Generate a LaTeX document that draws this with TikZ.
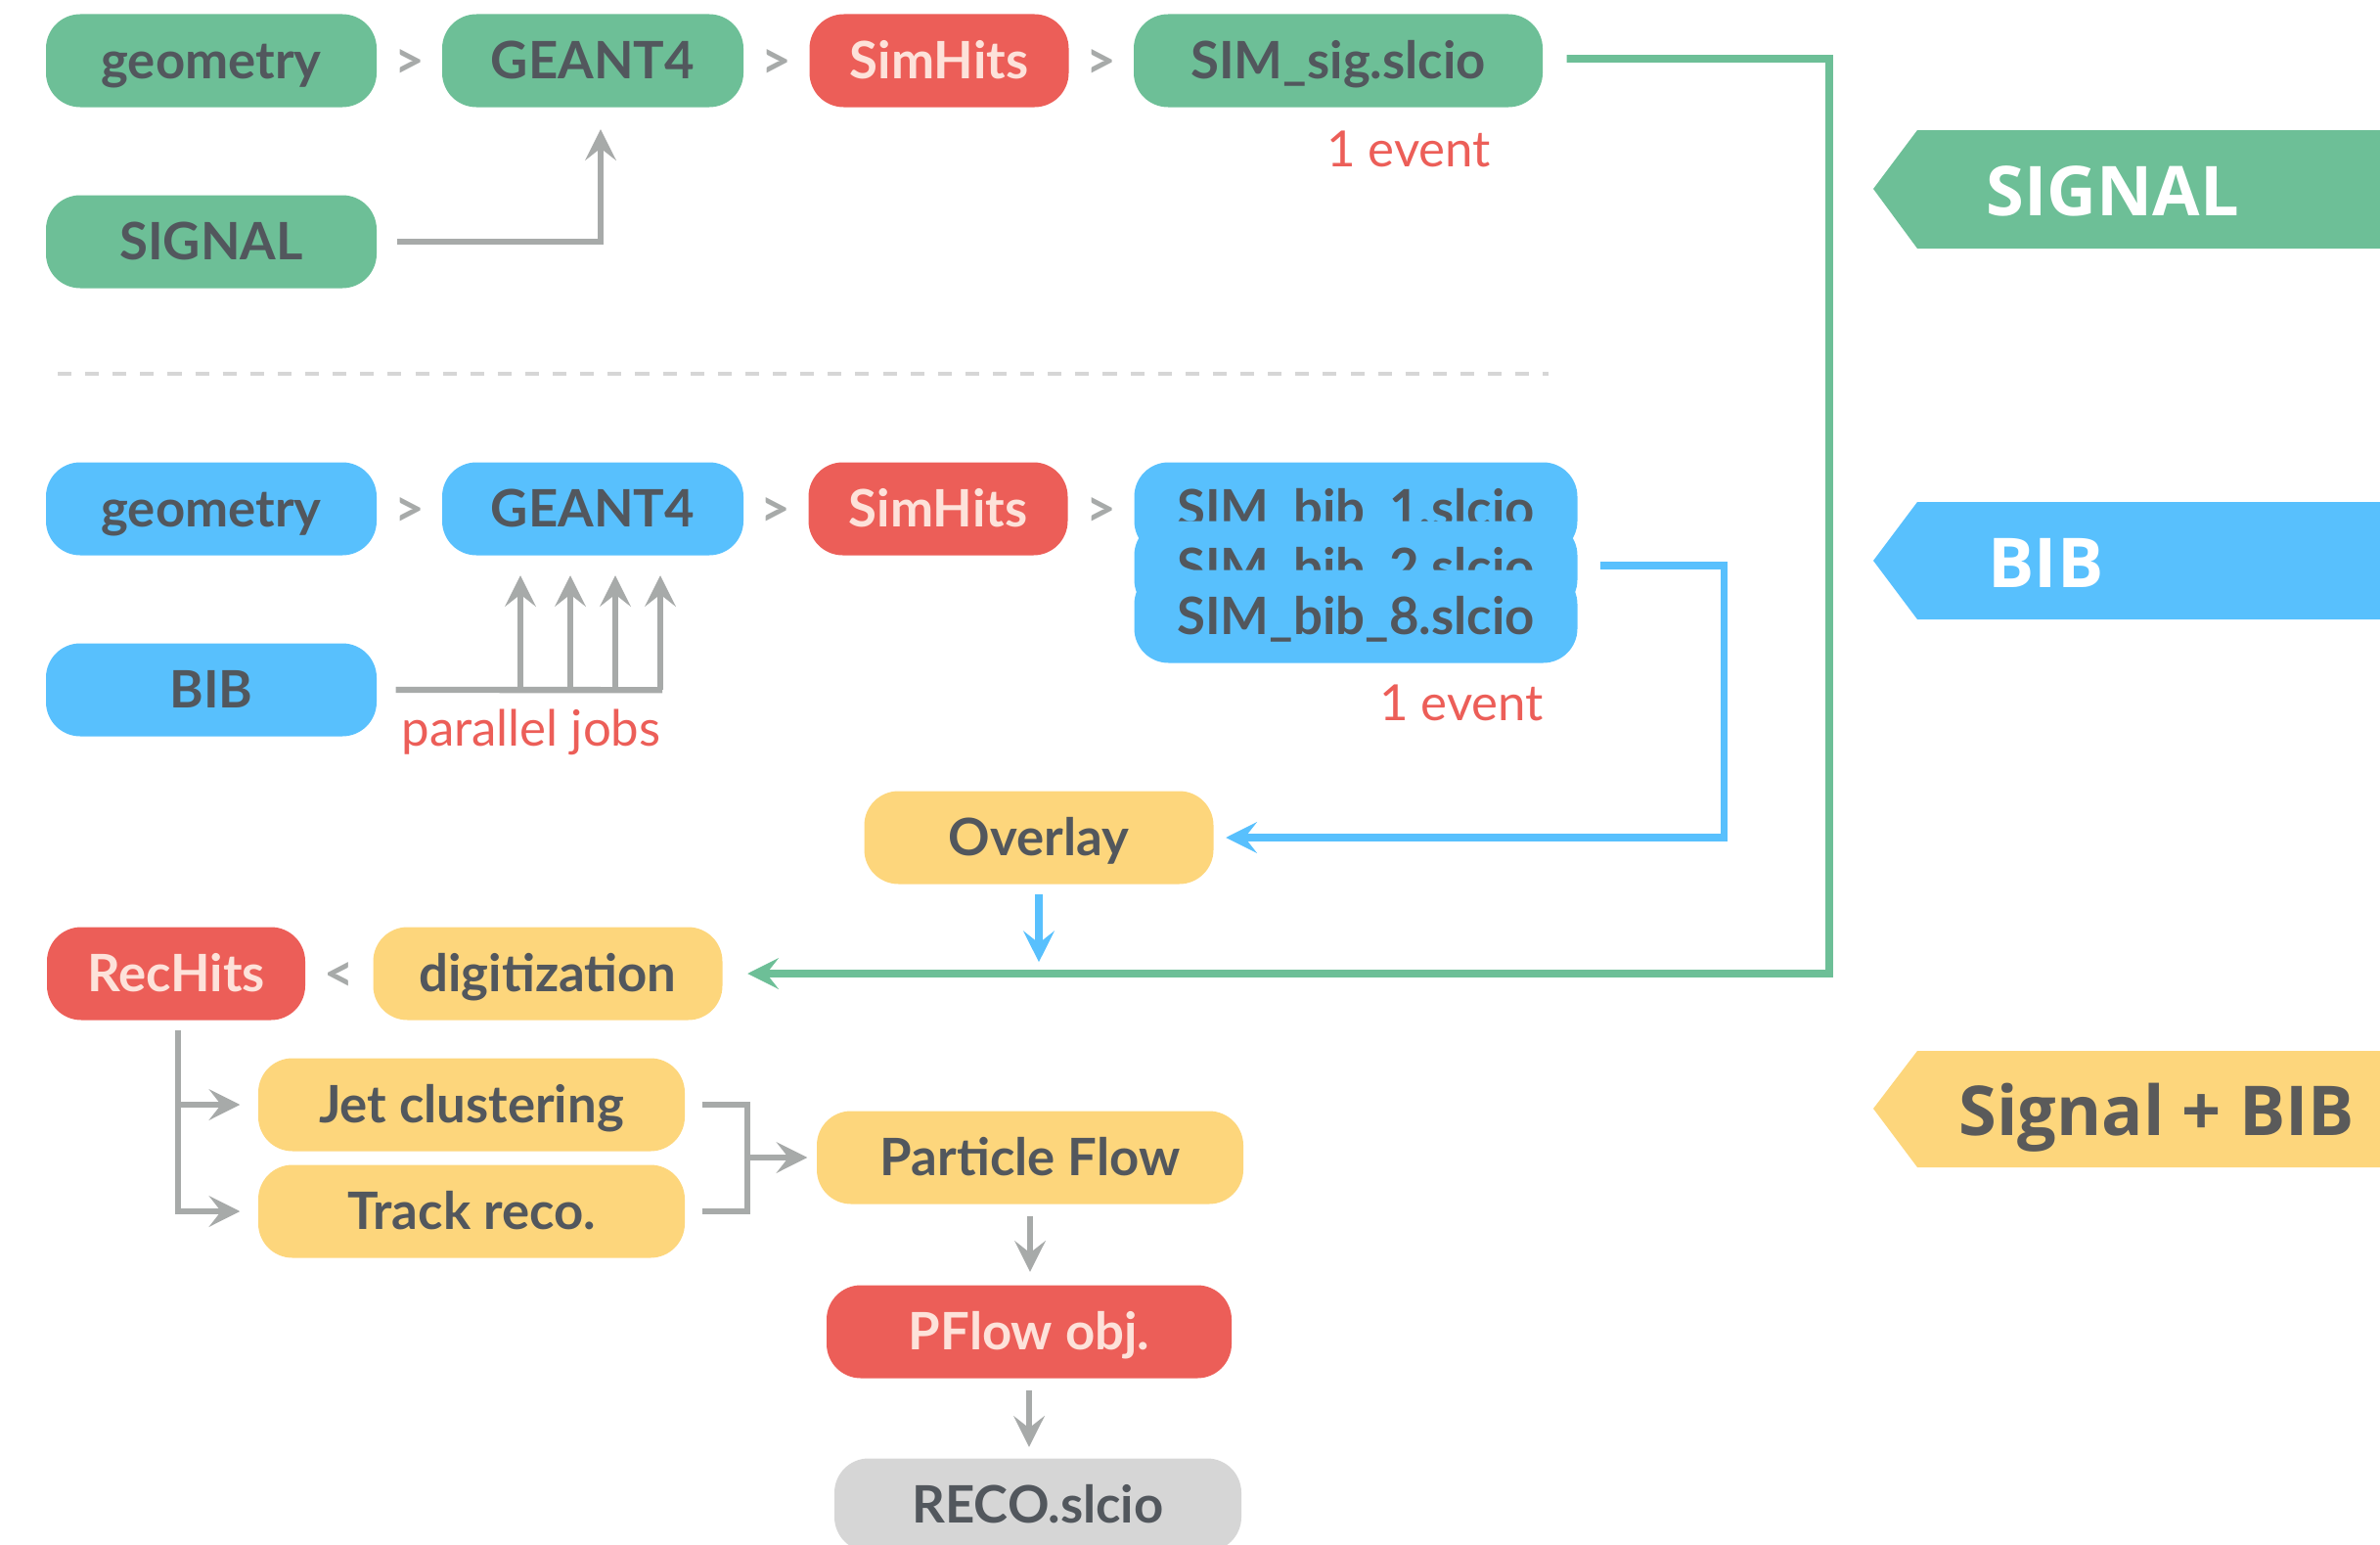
\documentclass[tikz,border=0pt]{standalone}
\usepackage{fontspec}
\setmainfont{Lato}
\newfontfamily\bannerfont{Open Sans}
\usetikzlibrary{arrows.meta, calc}
\definecolor{siggreen}{HTML}{6DBF97}
\definecolor{bibblue}{HTML}{58C0FD}
\definecolor{hitred}{HTML}{EC5E58}
\definecolor{mixyellow}{HTML}{FDD67C}
\definecolor{recogray}{HTML}{D6D6D6}
\definecolor{txtgray}{HTML}{52575D}
\definecolor{hittext}{HTML}{FDE2DA}
\definecolor{linegray}{HTML}{A7AAA9}
\definecolor{tagtext}{HTML}{5A5A5A}
\newcommand{\stagefont}{\fontsize{15}{18}\selectfont\bfseries}
\newcommand{\notefont}{\fontsize{14.5}{17}\selectfont}
\newcommand{\tagfont}{\bannerfont\fontsize{20}{24}\selectfont\bfseries}

\begin{document}
\begin{tikzpicture}[
        stage/.style={rounded corners=0.35cm, minimum height=0.95cm, inner sep=0pt,
            text height=10.8pt, text depth=0pt, font=\stagefont, text=txtgray},
        sigstage/.style={stage, fill=siggreen},
        bibstage/.style={stage, fill=bibblue},
        hitstage/.style={stage, fill=hitred, text=hittext},
        mixstage/.style={stage, fill=mixyellow},
        outstage/.style={stage, fill=recogray},
        sep/.style={font=\stagefont, text=linegray, text height=10.8pt, text depth=0pt, inner sep=0pt},
        note/.style={font=\notefont, text=hitred},
        tag/.style={font=\tagfont, text height=14.3pt, text depth=0pt, inner sep=0pt},
        feed/.style={draw=linegray, line width=1.8pt},
        feedarrow/.style={feed, -{Stealth[length=9pt, width=9pt, inset=3.5pt]}},
        sigline/.style={draw=siggreen, line width=2.2pt, -{Stealth[length=9pt, width=9pt, inset=3.5pt]}},
        bibline/.style={draw=bibblue, line width=2pt, -{Stealth[length=9pt, width=9pt, inset=3.5pt]}}
    ]
        \useasboundingbox (0,0) rectangle (24.33,-15.79);

        % Signal chain
        \node[sigstage, minimum width=3.38cm] (siggeo) at (2.16,-0.62) {geometry};
        \node[sigstage, minimum width=3.08cm] (siggeant) at (6.06,-0.62) {GEANT4};
        \node[hitstage, minimum width=2.65cm] (sighits) at (9.60,-0.62) {SimHits};
        \node[sigstage, minimum width=4.18cm] (simsig) at (13.68,-0.62) {SIM\_sig.slcio};
        \node[sep] at ($(siggeo.east)!0.5!(siggeant.west)$) {>};
        \node[sep] at ($(siggeant.east)!0.5!(sighits.west)$) {>};
        \node[sep] at ($(sighits.east)!0.5!(simsig.west)$) {>};
        \node[note] (sigevent) at (14.40,-1.52) {1 event};
        \node[sigstage, minimum width=3.38cm] (sigsrc) at (2.16,-2.47) {SIGNAL};
        \draw[feedarrow] ([xshift=0.20cm]sigsrc.east) -| ([xshift=0.08cm, yshift=-0.22cm]siggeant.south);

        % Divider
        \draw[draw=recogray, line width=1.2pt, dash pattern=on 4pt off 4pt] (0.59,-3.82) -- (15.83,-3.82);

        % BIB chain
        \node[bibstage, minimum width=3.38cm] (bibgeo) at (2.16,-5.20) {geometry};
        \node[bibstage, minimum width=3.08cm] (bibgeant) at (6.06,-5.20) {GEANT4};
        \node[hitstage, minimum width=2.65cm] (bibhits) at (9.59,-5.20) {SimHits};
        \node[bibstage, minimum width=4.53cm] (sim1) at (13.86,-5.20) {SIM\_bib\_1.slcio};
        \node[bibstage, minimum width=4.53cm] (sim2) at (13.86,-5.80) {SIM\_bib\_2.slcio};
        \node[bibstage, minimum width=4.53cm] (sim8) at (13.86,-6.30) {SIM\_bib\_8.slcio};
        \node[sep] at ($(bibgeo.east)!0.5!(bibgeant.west)$) {>};
        \node[sep] at ($(bibgeant.east)!0.5!(bibhits.west)$) {>};
        \node[sep] at ($(bibhits.east)!0.5!(sim1.west)$) {>};
        \node[note] (bibevent) at (14.94,-7.18) {1 event};
        \node[bibstage, minimum width=3.38cm] (bibsrc) at (2.16,-7.05) {BIB};
        \node[note] (jobs) at (5.43,-7.48) {parallel jobs};
        \draw[feed] ([xshift=0.19cm]bibsrc.east) -- ($(bibgeant.south)+(0.71,-1.37)$);
        \foreach \dx in {-0.74,-0.23,0.23,0.69} {
            \draw[feedarrow] ($(bibgeant.south)+(\dx,-1.37)$) -- ($(bibgeant.south)+(\dx,-0.20)$);
        }

        % Merging
        \node[mixstage, minimum width=3.57cm] (overlay) at (10.62,-8.56) {Overlay};
        \node[hitstage, minimum width=2.64cm] (rechits) at (1.80,-9.95) {RecHits};
        \node[mixstage, minimum width=3.57cm] (digi) at (5.60,-9.95) {digitization};
        \node[sep] at ($(rechits.east)!0.5!(digi.west)$) {<};
        \coordinate (sigbend) at (18.70,-0.60);
        \coordinate (bibbend) at (17.62,-5.78);
        \draw[sigline] ([xshift=0.24cm, yshift=0.02cm]simsig.east) -- (sigbend) |- ([xshift=0.25cm]digi.east);
        \draw[bibline] ([xshift=0.23cm, yshift=0.02cm]sim2.east) -- (bibbend) |- ([xshift=0.12cm]overlay.east);
        \draw[bibline] ([yshift=-0.10cm]overlay.south) -- ([yshift=-0.79cm]overlay.south);

        % Reconstruction
        \node[mixstage, minimum width=4.36cm] (jet) at (4.82,-11.29) {Jet clustering};
        \node[mixstage, minimum width=4.36cm] (track) at (4.82,-12.38) {Track reco.};
        \node[mixstage, minimum width=4.36cm] (pflow) at (10.53,-11.83) {Particle Flow};
        \node[hitstage, minimum width=4.14cm] (pfobj) at (10.52,-13.61) {PFlow obj.};
        \node[outstage, minimum width=4.16cm] (reco) at (10.61,-15.38) {RECO.slcio};
        \draw[feedarrow] ([xshift=0.02cm, yshift=-0.10cm]rechits.south) |- ([xshift=-0.18cm]track.west);
        \draw[feedarrow] ([xshift=0.02cm, yshift=-0.10cm]rechits.south) |- ([xshift=-0.18cm]jet.west);
        \draw[feed] ([xshift=0.17cm]jet.east) -- ([xshift=0.63cm]jet.east) -- ([xshift=0.63cm]track.east) -- ([xshift=0.17cm]track.east);
        \draw[feedarrow] ([xshift=0.63cm]jet.east |- pflow.west) -- ([xshift=-0.09cm]pflow.west);
        \draw[feedarrow] ([yshift=-0.12cm]pflow.south) -- ([yshift=0.13cm]pfobj.north -| pflow.south);
        \draw[feedarrow] ([yshift=-0.12cm]pfobj.south) -- ([yshift=0.11cm]reco.north -| pfobj.south);

        % Side tags
        \fill[siggreen] (24.33,-1.33) -- (19.60,-1.33) -- (19.15,-1.93) -- (19.60,-2.54) -- (24.33,-2.54) -- cycle;
        \node[tag, text=white, anchor=west] (sigtag) at (20.30,-1.95) {SIGNAL};
        \fill[bibblue] (24.33,-5.13) -- (19.60,-5.13) -- (19.15,-5.73) -- (19.60,-6.33) -- (24.33,-6.33) -- cycle;
        \node[tag, text=white, anchor=west] (bibtag) at (20.32,-5.75) {BIB};
        \fill[mixyellow] (24.33,-10.74) -- (19.60,-10.74) -- (19.15,-11.33) -- (19.60,-11.93) -- (24.33,-11.93) -- cycle;
        \node[tag, text=tagtext, anchor=west] (mixtag) at (20.02,-11.35) {Signal + BIB};
    \end{tikzpicture}
\end{document}
